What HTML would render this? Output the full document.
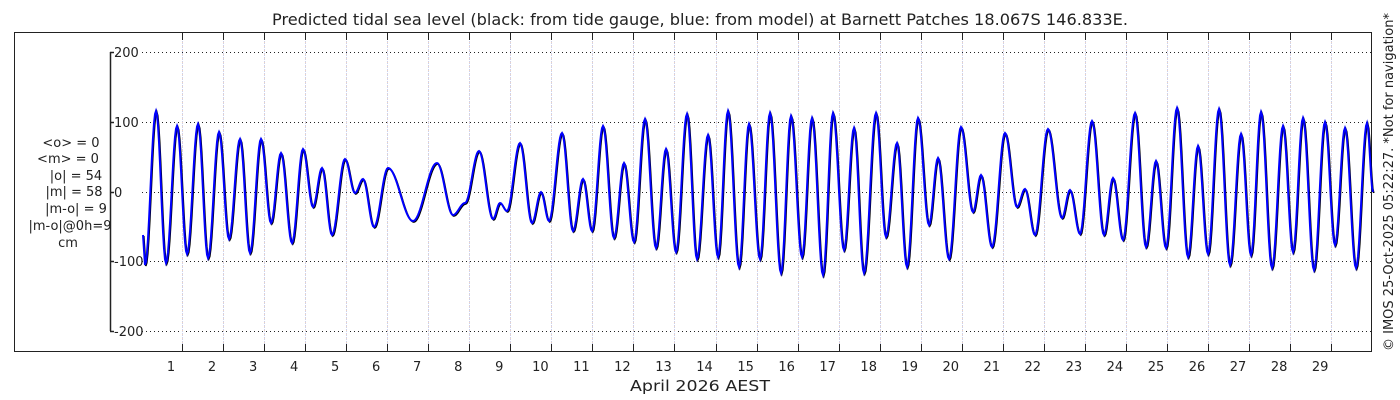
<!DOCTYPE html>
<html><head><meta charset="utf-8"><style>
html,body{margin:0;padding:0;background:#fff;}
svg{display:block;font-family:"DejaVu Sans","Liberation Sans",sans-serif;}
</style></head><body>
<svg id="s" width="1400" height="400" viewBox="0 0 1400 400" xmlns="http://www.w3.org/2000/svg">
<rect x="0" y="0" width="1400" height="400" fill="#fff"/>
<text x="700" y="25" font-size="15.6" text-anchor="middle" fill="#222" textLength="856" lengthAdjust="spacingAndGlyphs">Predicted tidal sea level (black: from tide gauge, blue: from model) at Barnett Patches 18.067S 146.833E.</text>
<g id="grid"></g>
<rect x="14.5" y="32.5" width="1357" height="319" fill="none" stroke="#222" stroke-width="1"/>
<line x1="110.5" y1="52" x2="110.5" y2="331" stroke="#222" stroke-width="1.5"/>
<g stroke="#222" stroke-width="1.5">
<line x1="110" y1="52.5" x2="114" y2="52.5"/><line x1="110" y1="122.5" x2="114" y2="122.5"/><line x1="110" y1="192.5" x2="114" y2="192.5"/><line x1="110" y1="261.5" x2="114" y2="261.5"/><line x1="110" y1="331.5" x2="114" y2="331.5"/>
</g>
<g font-size="13" fill="#222">
<text x="114" y="57">200</text>
<text x="114" y="127">100</text>
<text x="114" y="197">0</text>
<text x="114" y="266">-100</text>
<text x="114" y="336">-200</text>
</g>
<g font-size="13" fill="#222" text-anchor="middle">
<text x="71" y="147">&lt;o&gt; = 0</text>
<text x="68" y="163">&lt;m&gt; = 0</text>
<text x="76" y="180">|o| = 54</text>
<text x="74" y="196">|m| = 58</text>
<text x="76" y="213">|m-o| = 9</text>
<text x="70" y="230">|m-o|@0h=9</text>
<text x="68" y="247">cm</text>
</g>
<g id="xl" font-size="13" fill="#222" text-anchor="middle"></g>
<text x="700" y="391" font-size="15.5" text-anchor="middle" fill="#222" textLength="140" lengthAdjust="spacingAndGlyphs">April 2026 AEST</text>
<text transform="translate(1393,351) rotate(-90)" font-size="13" fill="#222">© IMOS 25-Oct-2025 05:22:27. *Not for navigation*</text>
<g id="lines"></g>
</svg>
<script>
var NS="http://www.w3.org/2000/svg";
function el(t,a,p){var e=document.createElementNS(NS,t);for(var k in a)e.setAttribute(k,a[k]);p.appendChild(e);return e;}
var g=document.getElementById('grid');
[52,122,192,261,331].forEach(function(y){el('line',{x1:142,y1:y+0.5,x2:1371,y2:y+0.5,stroke:'#222','stroke-width':1,'stroke-dasharray':'1,3'},g);});
for(var k=0;k<29;k++){var x=182+41.04*k;var xx=Math.round(x)+0.5;
el('line',{x1:xx,y1:33,x2:xx,y2:351,stroke:'#c8d0f0','stroke-width':1,'stroke-dasharray':'1,1'},g);
el('line',{x1:xx,y1:34,x2:xx,y2:351,stroke:'#f0d4c0','stroke-width':1,'stroke-dasharray':'1,3'},g);
el('line',{x1:xx,y1:33,x2:xx,y2:40,stroke:'#222','stroke-width':1},g);
el('line',{x1:xx,y1:344,x2:xx,y2:351,stroke:'#222','stroke-width':1},g);}
var xl=document.getElementById('xl');
for(var d=1;d<=29;d++){var t=el('text',{x:(171+41.04*(d-1)).toFixed(1),y:371},xl);t.textContent=d;}
var P=[[143,235],[145,265],[156,111],[166,263],[177,126],[187,254],[198,124],[208,258],[219,132],[229,239],[240,139],[250,253],[261,139],[271,223],[281,153],[292,243],[303,149],[313,207],[322,168],[332,235],[345,159],[355,193],[363,179],[374,227],[388,168],[413,221],[437,163],[453,215],[465,203],[479,151],[493,219],[500,203],[507,211],[520,143],[532,223],[541,192],[549,221],[562,133],[573,231],[583,179],[592,231],[603,126],[614,238],[624,163],[634,242],[645,119],[656,248],[666,149],[676,252],[687,114],[697,259],[708,135],[718,257],[728,111],[739,267],[749,124],[760,259],[770,113],[781,273],[791,116],[802,257],[812,118],[823,275],[833,113],[844,250],[854,128],[864,273],[876,113],[886,237],[897,143],[907,267],[918,118],[929,225],[938,158],[949,259],[961,127],[973,212],[981,175],[992,247],[1005,133],[1017,207],[1025,189],[1035,235],[1048,129],[1062,218],[1070,190],[1080,234],[1092,121],[1104,235],[1113,178],[1123,240],[1135,113],[1146,247],[1156,161],[1166,248],[1177,108],[1188,257],[1198,146],[1208,254],[1219,109],[1230,265],[1241,134],[1251,255],[1261,112],[1272,268],[1283,126],[1293,252],[1303,118],[1314,270],[1325,122],[1335,245],[1345,128],[1356,268],[1367,123],[1373,192]];
function path(dx,dy){var s='M'+(P[0][0]+dx)+','+(P[0][1]+dy);
for(var i=0;i<P.length-1;i++){var a=P[i],b=P[i+1];var n=Math.max(2,Math.round((b[0]-a[0])));
for(var j=1;j<=n;j++){var f=j/n;var c=(1-Math.cos(Math.PI*f))/2;s+=' L'+(a[0]+(b[0]-a[0])*f+dx).toFixed(2)+','+(a[1]+(b[1]-a[1])*c+dy).toFixed(2);}}
return s;}
var L=document.getElementById('lines');
el('path',{d:path(0.8,1),fill:'none',stroke:'#000','stroke-width':1.6},L);
el('path',{d:path(0,0),fill:'none',stroke:'#0000ff','stroke-width':2},L);
</script>
</body></html>
